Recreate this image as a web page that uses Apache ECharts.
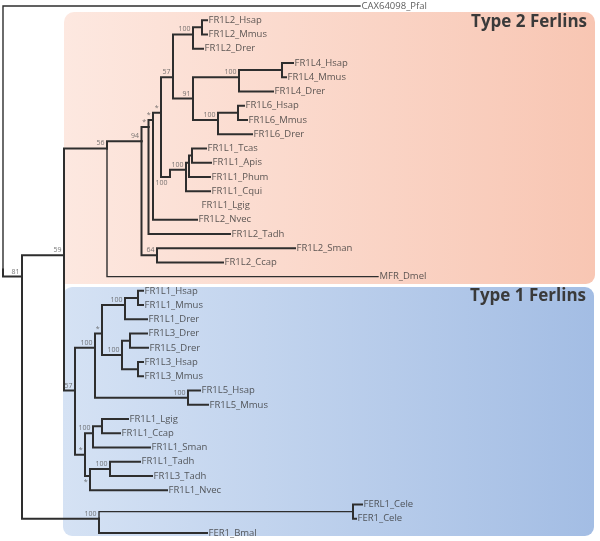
<!DOCTYPE html>
<html>
<head>
<meta charset="utf-8">
<script src="https://cdn.jsdelivr.net/npm/echarts@6/dist/echarts.min.js"></script>
<style>html,body{margin:0;padding:0;background:#fff;}#chart{width:600px;height:541px;}</style>
</head>
<body>
<div id="chart"></div>
<script>
// ---- Leaves (top to bottom order) ----
const leafNames = ['CAX64098_Pfal','FR1L2_Hsap','FR1L2_Mmus','FR1L2_Drer','FR1L4_Hsap','FR1L4_Mmus','FR1L4_Drer',
  'FR1L6_Hsap','FR1L6_Mmus','FR1L6_Drer','FR1L1_Tcas','FR1L1_Apis','FR1L1_Phum','FR1L1_Cqui','FR1L1_Lgig',
  'FR1L2_Nvec','FR1L2_Tadh','FR1L2_Sman','FR1L2_Ccap','MFR_Dmel',
  'FR1L1_Hsap','FR1L1_Mmus','FR1L1_Drer','FR1L3_Drer','FR1L5_Drer','FR1L3_Hsap','FR1L3_Mmus','FR1L5_Hsap','FR1L5_Mmus',
  'FR1L1_Lgig','FR1L1_Ccap','FR1L1_Sman','FR1L1_Tadh','FR1L3_Tadh','FR1L1_Nvec',
  'FERL1_Cele','FER1_Cele','FER1_Bmal'];
const leafParent = ['root','nL2hm','nL2hm','nL2','nL4hm','nL4hm','nL4','nL6hm','nL6hm','nL6','nS','nS','nR','nQ','nP',
  'nB','nA','n64','n64','n56',
  'nL1hm','nL1hm','nL1','nL35d','nL35d','nL3hm','nL3hm','nL5','nL5',
  'nLC','nLC','nV','nTadh','nTadh','nW',
  'nCele','nCele','nX'];
const leafDepth = [360,207,207,203,293,286,273,244,247,252,206,211,210,210,200,
  197,230,295,223,378,
  143,143,147,147,148,143,143,200,208,
  128,120,150,140,152,167,
  362,356,207];

// ---- Internal nodes ----
const innerNames  = ['root','n81','n59','n56','n94','nA','nB','nC','n57b','nL2','nL2hm','n91','nL4','nL4hm','nL6','nL6hm',
  'nP','nQ','nR','nS','n64',
  'n57a','nT1a','nStar2','nL1','nL1hm','nL35','nL35d','nL3hm','nL5','nU','nV','nLC','nW','nTadh','nX','nCele'];
const innerParent = [null,'root','n81','n59','n56','n94','nA','nB','nC','n57b','nL2','n57b','n91','nL4','n91','nL6',
  'nC','nP','nQ','nR','n94',
  'n59','n57a','nT1a','nStar2','nL1','nStar2','nL35','nL35','nT1a','n57a','nU','nV','nU','nW','n81','nX'];
const innerDepth  = [3,22,64,107,141.5,148.5,153,161,173,193,202,193,239,282,218,238,
  170,186,189,192,157,
  75,95,102,125,138,122,130,138,188,85,93,102,90,110,99,353];
const innerSupport = ['','81','59','56','94','*','*','*','57','100','','91','100','','100','',
  '100','100','','','64',
  '57','100','*','100','','100','','','100','*','100','','*','100','100',''];
const supportBelow = ['nP','nW'];
const thinBranches = ['CAX64098_Pfal','MFR_Dmel','nCele'];

// ---- Layout via mean leaf position ----
const depth = {}, parent = {}, yPos = {};
innerNames.forEach((n,i)=>{depth[n]=innerDepth[i]; parent[n]=innerParent[i];});
leafNames.forEach((n,i)=>{depth[n]=leafDepth[i]; parent[n]=leafParent[i]; yPos[n]=i;});
const sums = {}, counts = {};
leafNames.forEach((n,i)=>{
  let p = leafParent[i];
  while (p) { sums[p]=(sums[p]||0)+i; counts[p]=(counts[p]||0)+1; p = parent[p]; }
});
innerNames.forEach(n=>{ yPos[n] = sums[n]/counts[n]; });

const branchData = [];
innerNames.concat(leafNames).forEach(n=>{
  const p = parent[n];
  if (!p) return;
  const thin = thinBranches.indexOf(n) >= 0;
  branchData.push({
    coords: [[depth[p], yPos[p]], [depth[p], yPos[n]], [depth[n], yPos[n]]],
    lineStyle: {width: thin ? 1.4 : 2}
  });
});

const leafData = leafNames.map((n,i)=>[leafDepth[i], i, n]);
const supAbove = [], supBelow = [];
innerNames.forEach((n,i)=>{
  if (!innerSupport[i]) return;
  const item = [depth[n], yPos[n], innerSupport[i]];
  (supportBelow.indexOf(n) >= 0 ? supBelow : supAbove).push(item);
});

const chart = echarts.init(document.getElementById('chart'), null, {renderer:'canvas'});
const font = '"Open Sans", "DejaVu Sans", sans-serif';
chart.setOption({
  animation: false,
  grid: {left: 0, right: 0, top: 6, bottom: 8},
  xAxis: {type: 'value', min: 0, max: 600, show: false},
  yAxis: {type: 'value', min: 0, max: 37, inverse: true, show: false},
  graphic: [
    {type: 'rect', z: 0, shape: {x: 64, y: 12, width: 531, height: 272, r: [10, 10, 9, 0]},
      style: {fill: new echarts.graphic.LinearGradient(0,0,1,0,[{offset:0,color:'#fde8e0'},{offset:1,color:'#f8c6b3'}])}},
    {type: 'rect', z: 0, shape: {x: 63, y: 287, width: 531, height: 249, r: 9},
      style: {fill: new echarts.graphic.LinearGradient(0,0,1,0,[{offset:0,color:'#d5e2f4'},{offset:1,color:'#a3bde4'}])}},
    {type: 'text', z: 1, style: {text: 'Type 2 Ferlins', x: 587, y: 22, align: 'right', verticalAlign: 'middle',
      font: 'bold 17px ' + font, fill: '#3a3a3a'}},
    {type: 'text', z: 1, style: {text: 'Type 1 Ferlins', x: 586, y: 296, align: 'right', verticalAlign: 'middle',
      font: 'bold 17px ' + font, fill: '#3a3a3a'}}
  ],
  series: [
    {type: 'lines', coordinateSystem: 'cartesian2d', polyline: true, silent: true, z: 3,
      lineStyle: {color: '#2e2e2e', width: 2, opacity: 1, cap: 'square', join: 'miter'},
      data: branchData},
    {type: 'scatter', symbolSize: 1, itemStyle: {color: 'rgba(0,0,0,0)'}, silent: true, z: 4,
      label: {show: true, position: 'right', distance: 1, formatter: p=>p.data[2],
        fontFamily: font, fontSize: 9.5, color: '#333333'},
      data: leafData},
    {type: 'scatter', symbolSize: 1, itemStyle: {color: 'rgba(0,0,0,0)'}, silent: true, z: 4,
      label: {show: true, position: [-2, -1], align: 'right', verticalAlign: 'bottom', formatter: p=>p.data[2],
        fontFamily: font, fontSize: 7, color: '#555555'},
      data: supAbove},
    {type: 'scatter', symbolSize: 1, itemStyle: {color: 'rgba(0,0,0,0)'}, silent: true, z: 4,
      label: {show: true, position: [-2, 3], align: 'right', verticalAlign: 'top', formatter: p=>p.data[2],
        fontFamily: font, fontSize: 7, color: '#555555'},
      data: supBelow}
  ]
});
</script>
</body>
</html>
